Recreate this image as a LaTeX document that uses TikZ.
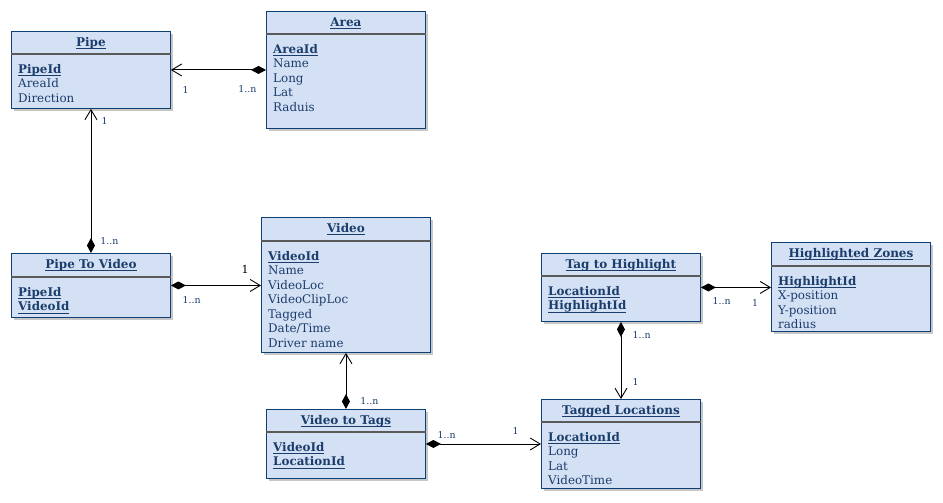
\documentclass[tikz,border=0pt]{standalone}
\usepackage{fontspec}
\setmainfont{DejaVu Serif}
\usetikzlibrary{arrows.meta,shadows,calc}
\definecolor{boxfill}{HTML}{D4E1F5}
\definecolor{boxline}{HTML}{0E3F75}
\definecolor{txt}{HTML}{1B3D6B}
\definecolor{sepc}{HTML}{5A5A5A}
\newsavebox{\myulbox}
\newcommand{\myul}[1]{\sbox{\myulbox}{#1}\rlap{\rule[-2.4pt]{\wd\myulbox}{0.8pt}}\usebox{\myulbox}}
\newcommand{\key}[1]{\myul{\textbf{#1}}}
\tikzset{
  cls/.style={draw=boxline, line width=0.9pt, fill=boxfill, inner sep=0pt,
    drop shadow={shadow xshift=3pt, shadow yshift=-3pt, fill=black!22, opacity=1}},
  sepline/.style={draw=sepc, line width=1.2pt},
  ttl/.style={text=txt, inner sep=0pt, anchor=base, font=\fontsize{12}{14}\selectfont\bfseries},
  att/.style={text=txt, inner sep=0pt, anchor=north west, align=left, font=\fontsize{11.9}{14.5}\selectfont},
  mult/.style={text=txt, inner sep=0pt, font=\fontsize{9.4}{10}\selectfont},
  comp/.style={draw=black, line width=0.9pt, {Diamond[length=15pt,width=8pt]}-{Straight Barb[length=10pt,width=12pt,line width=0.9pt]}}
}
% name, x, y, w, h, header height, title, attributes
\newcommand{\umlclass}[8]{%
  \node[cls, minimum width=#4pt, minimum height=#5pt, anchor=north west] (#1) at (#2,#3) {};
  \draw[sepline] ($(#1.north west)+(0,#6)$) -- ($(#1.north east)+(0,#6)$);
  \node[ttl] (#1-t) at ($(#1.north)+(0,15.7)$) {\myul{#7}};
  \node[att] (#1-a) at ($(#1.north west)+(7,#6+10.2)$) {#8};
}
\begin{document}
\begin{tikzpicture}[x=1pt, y=-1pt]
\useasboundingbox (0,0) rectangle (943,503);
\umlclass{pipe}{11}{31}{159}{77}{23}{Pipe}{\key{PipeId}\\AreaId\\Direction}
\umlclass{area}{266}{11}{159}{117}{23}{Area}{\key{AreaId}\\Name\\Long\\Lat\\Raduis}
\umlclass{ptv}{11}{253}{159}{64}{24}{Pipe To Video}{\key{PipeId}\\\key{VideoId}}
\umlclass{video}{261}{217}{169}{135}{24}{Video}{\key{VideoId}\\Name\\VideoLoc\\VideoClipLoc\\Tagged\\Date/Time\\Driver name}
\umlclass{vtt}{266}{409}{159}{69}{23}{Video to Tags}{\key{VideoId}\\\key{LocationId}}
\umlclass{tl}{541}{399}{159}{89}{23}{Tagged Locations}{\key{LocationId}\\Long\\Lat\\VideoTime}
\umlclass{tth}{541}{253}{159}{68}{23}{Tag to Highlight}{\key{LocationId}\\\key{HighlightId}}
\umlclass{hz}{771}{242}{159}{89}{24}{Highlighted Zones}{\key{HighlightId}\\X-position\\Y-position\\radius}

\draw[comp] (area.west) -- (pipe.east);
\draw[comp] (ptv.north) -- (pipe.south);
\draw[comp] (ptv.east) -- (video.west |- ptv.east);
\draw[comp] (vtt.north) -- (video.south);
\draw[comp] (vtt.east) -- (tl.west);
\draw[comp] (tth.south) -- (tl.north);
\draw[comp] (tth.east) -- (hz.west |- tth.east);

\node[mult] (m1) at (185.5,90.5) {1};
\node[mult] (m2) at (247.5,89.3) {1..n};
\node[mult] (m3) at (104.7,120.7) {1};
\node[mult] (m4) at (109.5,240.7) {1..n};
\node[inner sep=0pt, font=\fontsize{11}{12}\selectfont] (m5) at (245,269.3) {1};
\node[mult] (m6) at (191.7,300) {1..n};
\node[mult, fill=white, inner xsep=1pt] (m7) at (369.3,401) {1..n};
\node[mult] (m8) at (446.7,435) {1..n};
\node[mult] (m9) at (515.7,430.7) {1};
\node[mult] (m10) at (635.7,381.7) {1};
\node[mult] (m11) at (641.7,335) {1..n};
\node[mult] (m12) at (721.7,300.7) {1..n};
\node[mult] (m13) at (755,303.3) {1};
\end{tikzpicture}
\end{document}
